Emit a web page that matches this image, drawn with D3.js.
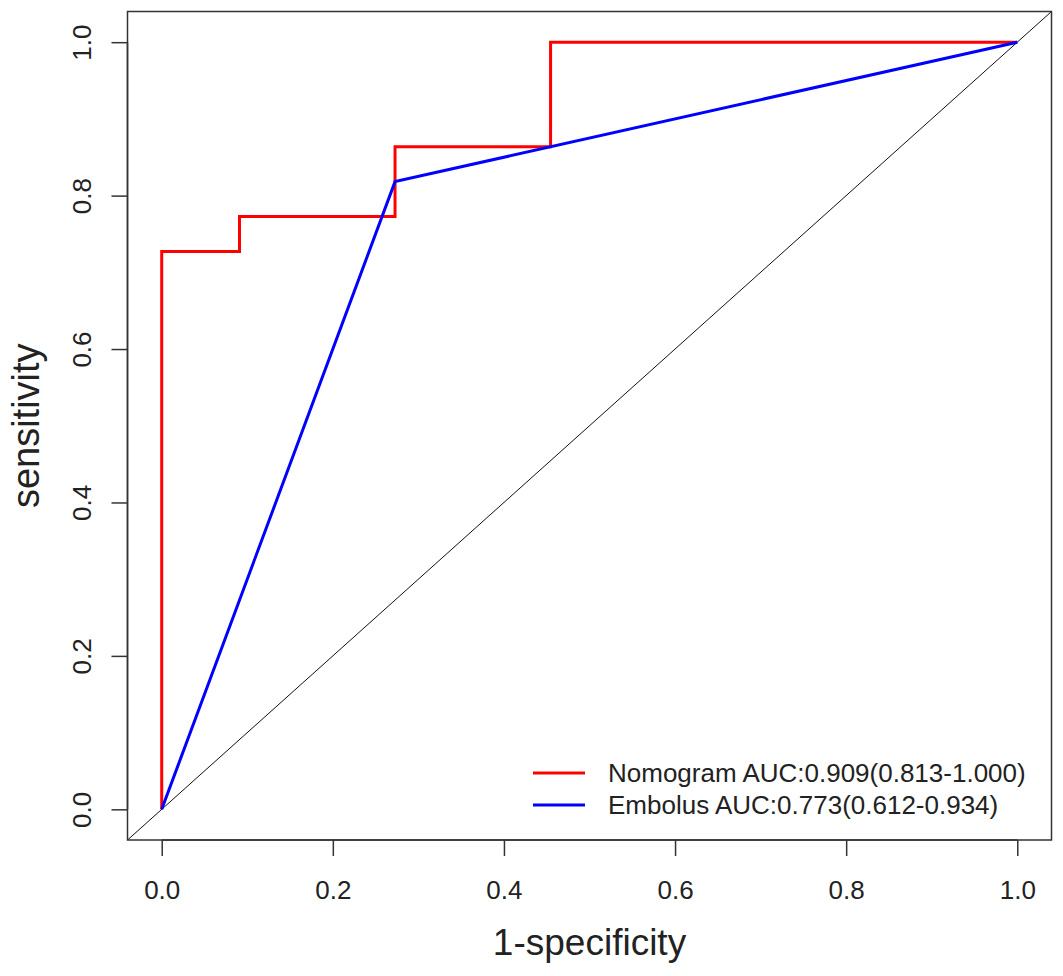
<!DOCTYPE html>
<html>
<head>
<meta charset="utf-8">
<script src="https://cdn.jsdelivr.net/npm/d3@7"></script>
<style>
  body { margin: 0; background: #fff; }
  text { font-family: "Liberation Sans", Arial, sans-serif; fill: #222; }
</style>
</head>
<body>
<div id="chart"></div>
<script>
const width = 1063
const height = 976

// ROC points, x = 1-specificity, y = sensitivity
const nomogramX = [0, 0, 0.0909, 0.0909, 0.2727, 0.2727, 0.4545, 0.4545, 1]
const nomogramY = [0, 0.7273, 0.7273, 0.7727, 0.7727, 0.8636, 0.8636, 1, 1]
const embolusX = [0, 0.2727, 1]
const embolusY = [0, 0.8182, 1]

const ticks = [0, 0.2, 0.4, 0.6, 0.8, 1.0]
const legendLabels = ["Nomogram AUC:0.909(0.813-1.000)", "Embolus AUC:0.773(0.612-0.934)"]
const colors = ["#ff0000", "#0000ff"]

const box = {left: 127.5, right: 1051.5, top: 11.5, bottom: 840}

const x = d3.scaleLinear().domain([-0.04, 1.04]).range([box.left, box.right])
const y = d3.scaleLinear().domain([-0.04, 1.04]).range([box.bottom, box.top])

const svg = d3.select("#chart").append("svg")
  .attr("width", width)
  .attr("height", height)

svg.append("defs").append("clipPath").attr("id", "clip")
  .append("rect")
    .attr("x", box.left).attr("y", box.top)
    .attr("width", box.right - box.left).attr("height", box.bottom - box.top)

// diagonal reference
svg.append("line")
  .attr("clip-path", "url(#clip)")
  .attr("x1", x(-0.04)).attr("y1", y(-0.04))
  .attr("x2", x(1.04)).attr("y2", y(1.04))
  .attr("stroke", "#111")
  .attr("stroke-width", 1)

const line = d3.line().x(d => x(d[0])).y(d => y(d[1]))

const series = [
  d3.zip(nomogramX, nomogramY),
  d3.zip(embolusX, embolusY)
]

series.forEach((pts, i) => {
  svg.append("path")
    .attr("d", line(pts))
    .attr("fill", "none")
    .attr("stroke", colors[i])
    .attr("stroke-width", 3)
})

// plot frame
svg.append("rect")
  .attr("x", box.left).attr("y", box.top)
  .attr("width", box.right - box.left).attr("height", box.bottom - box.top)
  .attr("fill", "none")
  .attr("stroke", "#333")
  .attr("stroke-width", 1.5)

// x axis
const xAxis = svg.append("g")
  .attr("transform", `translate(0,${box.bottom})`)
  .call(d3.axisBottom(x).tickValues(ticks).tickFormat(d3.format(".1f")).tickSize(16).tickSizeOuter(0).tickPadding(25))
xAxis.select(".domain")
  .attr("d", `M${x(0)},0H${x(1)}`)
  .attr("stroke", "#333").attr("stroke-width", 1.5)
xAxis.selectAll(".tick line").attr("stroke", "#333").attr("stroke-width", 1.5)
xAxis.selectAll(".tick text")
  .attr("font-size", 26)
  .attr("font-family", "Liberation Sans, Arial, sans-serif")
  .attr("fill", "#222")

// y axis with rotated labels
const yAxis = svg.append("g")
  .attr("transform", `translate(${box.left},0)`)
  .call(d3.axisLeft(y).tickValues(ticks).tickFormat(d3.format(".1f")).tickSize(16).tickSizeOuter(0))
yAxis.select(".domain")
  .attr("d", `M0,${y(0)}V${y(1)}`)
  .attr("stroke", "#333").attr("stroke-width", 1.5)
yAxis.selectAll(".tick line").attr("stroke", "#333").attr("stroke-width", 1.5)
yAxis.selectAll(".tick text")
  .attr("x", null).attr("dy", null)
  .attr("transform", "translate(-37,0) rotate(-90)")
  .attr("text-anchor", "middle")
  .attr("font-size", 26)
  .attr("font-family", "Liberation Sans, Arial, sans-serif")
  .attr("fill", "#222")

// axis titles
svg.append("text")
  .attr("x", (box.left + box.right) / 2)
  .attr("y", 955)
  .attr("text-anchor", "middle")
  .attr("font-size", 37)
  .text("1-specificity")

svg.append("text")
  .attr("transform", `translate(39,${(box.top + box.bottom) / 2}) rotate(-90)`)
  .attr("text-anchor", "middle")
  .attr("font-size", 38)
  .text("sensitivity")

// legend
const legend = svg.append("g").attr("transform", "translate(533,773)")
legendLabels.forEach((lab, i) => {
  const g = legend.append("g").attr("transform", `translate(0,${i * 32})`)
  g.append("line")
    .attr("x1", 0).attr("x2", 52)
    .attr("stroke", colors[i]).attr("stroke-width", 3)
  g.append("text")
    .attr("x", 75).attr("y", 9)
    .attr("font-size", 26)
    .text(lab)
})
</script>
</body>
</html>
